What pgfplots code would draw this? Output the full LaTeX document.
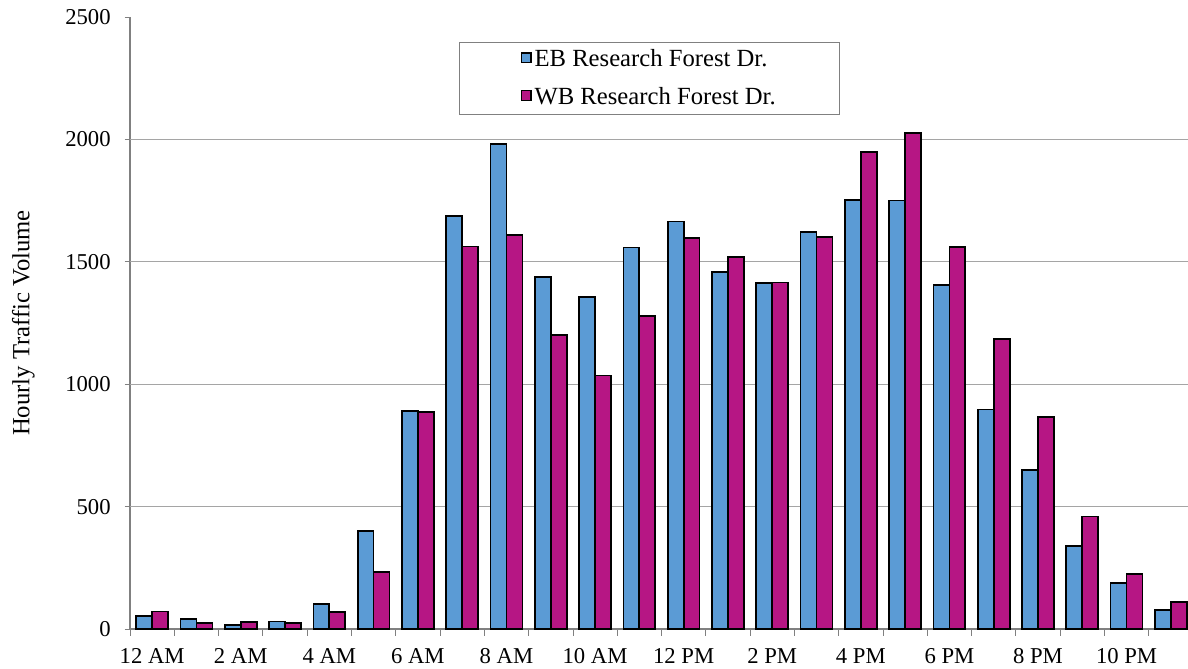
\documentclass[border=0pt]{standalone}
\usepackage{pgfplots}
\pgfplotsset{compat=1.18}
\usepackage{fontspec}
\setmainfont{Liberation Serif}
\definecolor{ebblue}{RGB}{91,155,213}
\definecolor{wbmag}{RGB}{182,22,132}
\definecolor{axgray}{RGB}{128,128,128}
\definecolor{gridgray}{RGB}{165,165,165}
\pgfplotstableread{
h EB WB
0 54 72
1 42 25
2 15 29
3 31 25
4 103 68
5 400 233
6 892 887
7 1687 1562
8 1981 1609
9 1439 1201
10 1356 1035
11 1558 1280
12 1665 1597
13 1458 1521
14 1412 1415
15 1623 1601
16 1752 1949
17 1750 2027
18 1405 1560
19 897 1185
20 650 865
21 340 460
22 189 226
23 78 110
}\datatable
\begin{document}
\begin{tikzpicture}
\useasboundingbox (-97.5pt,-29.25pt) rectangle (793.5pt,471.75pt);
\begin{axis}[
  at={(0,0)}, anchor=south west,
  scale only axis, width=797.25pt, height=459pt,
  /pgf/number format/assume math mode=true,
  /pgf/number format/1000 sep={},
  font=\fontsize{17}{20}\selectfont,
  ybar=0pt, bar width=0.36,
  xmin=-0.5, xmax=23.5, ymin=0, ymax=2500,
  axis x line*=bottom, axis y line*=left,
  axis line style={axgray, line width=0.8pt},
  tick align=outside,
  xtick={0,2,...,22},
  xticklabels={12 AM,2 AM,4 AM,6 AM,8 AM,10 AM,12 PM,2 PM,4 PM,6 PM,8 PM,10 PM},
  major x tick style={draw=none},
  minor xtick={-0.5,0.5,...,23.5},
  minor tick length=5pt,
  minor x tick style={axgray, line width=0.6pt},
  xticklabel style={yshift=-7pt},
  ytick={0,500,...,2500},
  major tick length=4pt,
  y tick style={axgray, line width=0.6pt},
  yticklabel style={xshift=-7pt},
  extra y ticks={500,1000,1500,2000},
  extra y tick labels={},
  extra y tick style={grid=major, major tick length=0pt, major grid style={gridgray, line width=0.6pt}},
  ylabel={Hourly Traffic Volume},
  ylabel style={at={(axis description cs:0,0.5)}, anchor=center, rotate=0, yshift=80pt, font=\fontsize{18.5}{22}\selectfont},
  legend style={at={(0.3095,0.959)}, anchor=north west, draw=axgray, inner xsep=46pt, inner ysep=3.5pt, row sep=10pt, font=\fontsize{18.5}{22}\selectfont, cells={anchor=west}},
  legend image code/.code={\draw[#1, line width=1.1pt] (0pt,-2.6pt) rectangle (7.4pt,4.8pt);},
]
\addplot[fill=ebblue, draw=black, line width=1.3pt] table[x=h, y=EB] {\datatable};
\addplot[fill=wbmag, draw=black, line width=1.3pt] table[x=h, y=WB] {\datatable};
\legend{EB Research Forest Dr., WB Research Forest Dr.}
\end{axis}
\end{tikzpicture}
\end{document}
